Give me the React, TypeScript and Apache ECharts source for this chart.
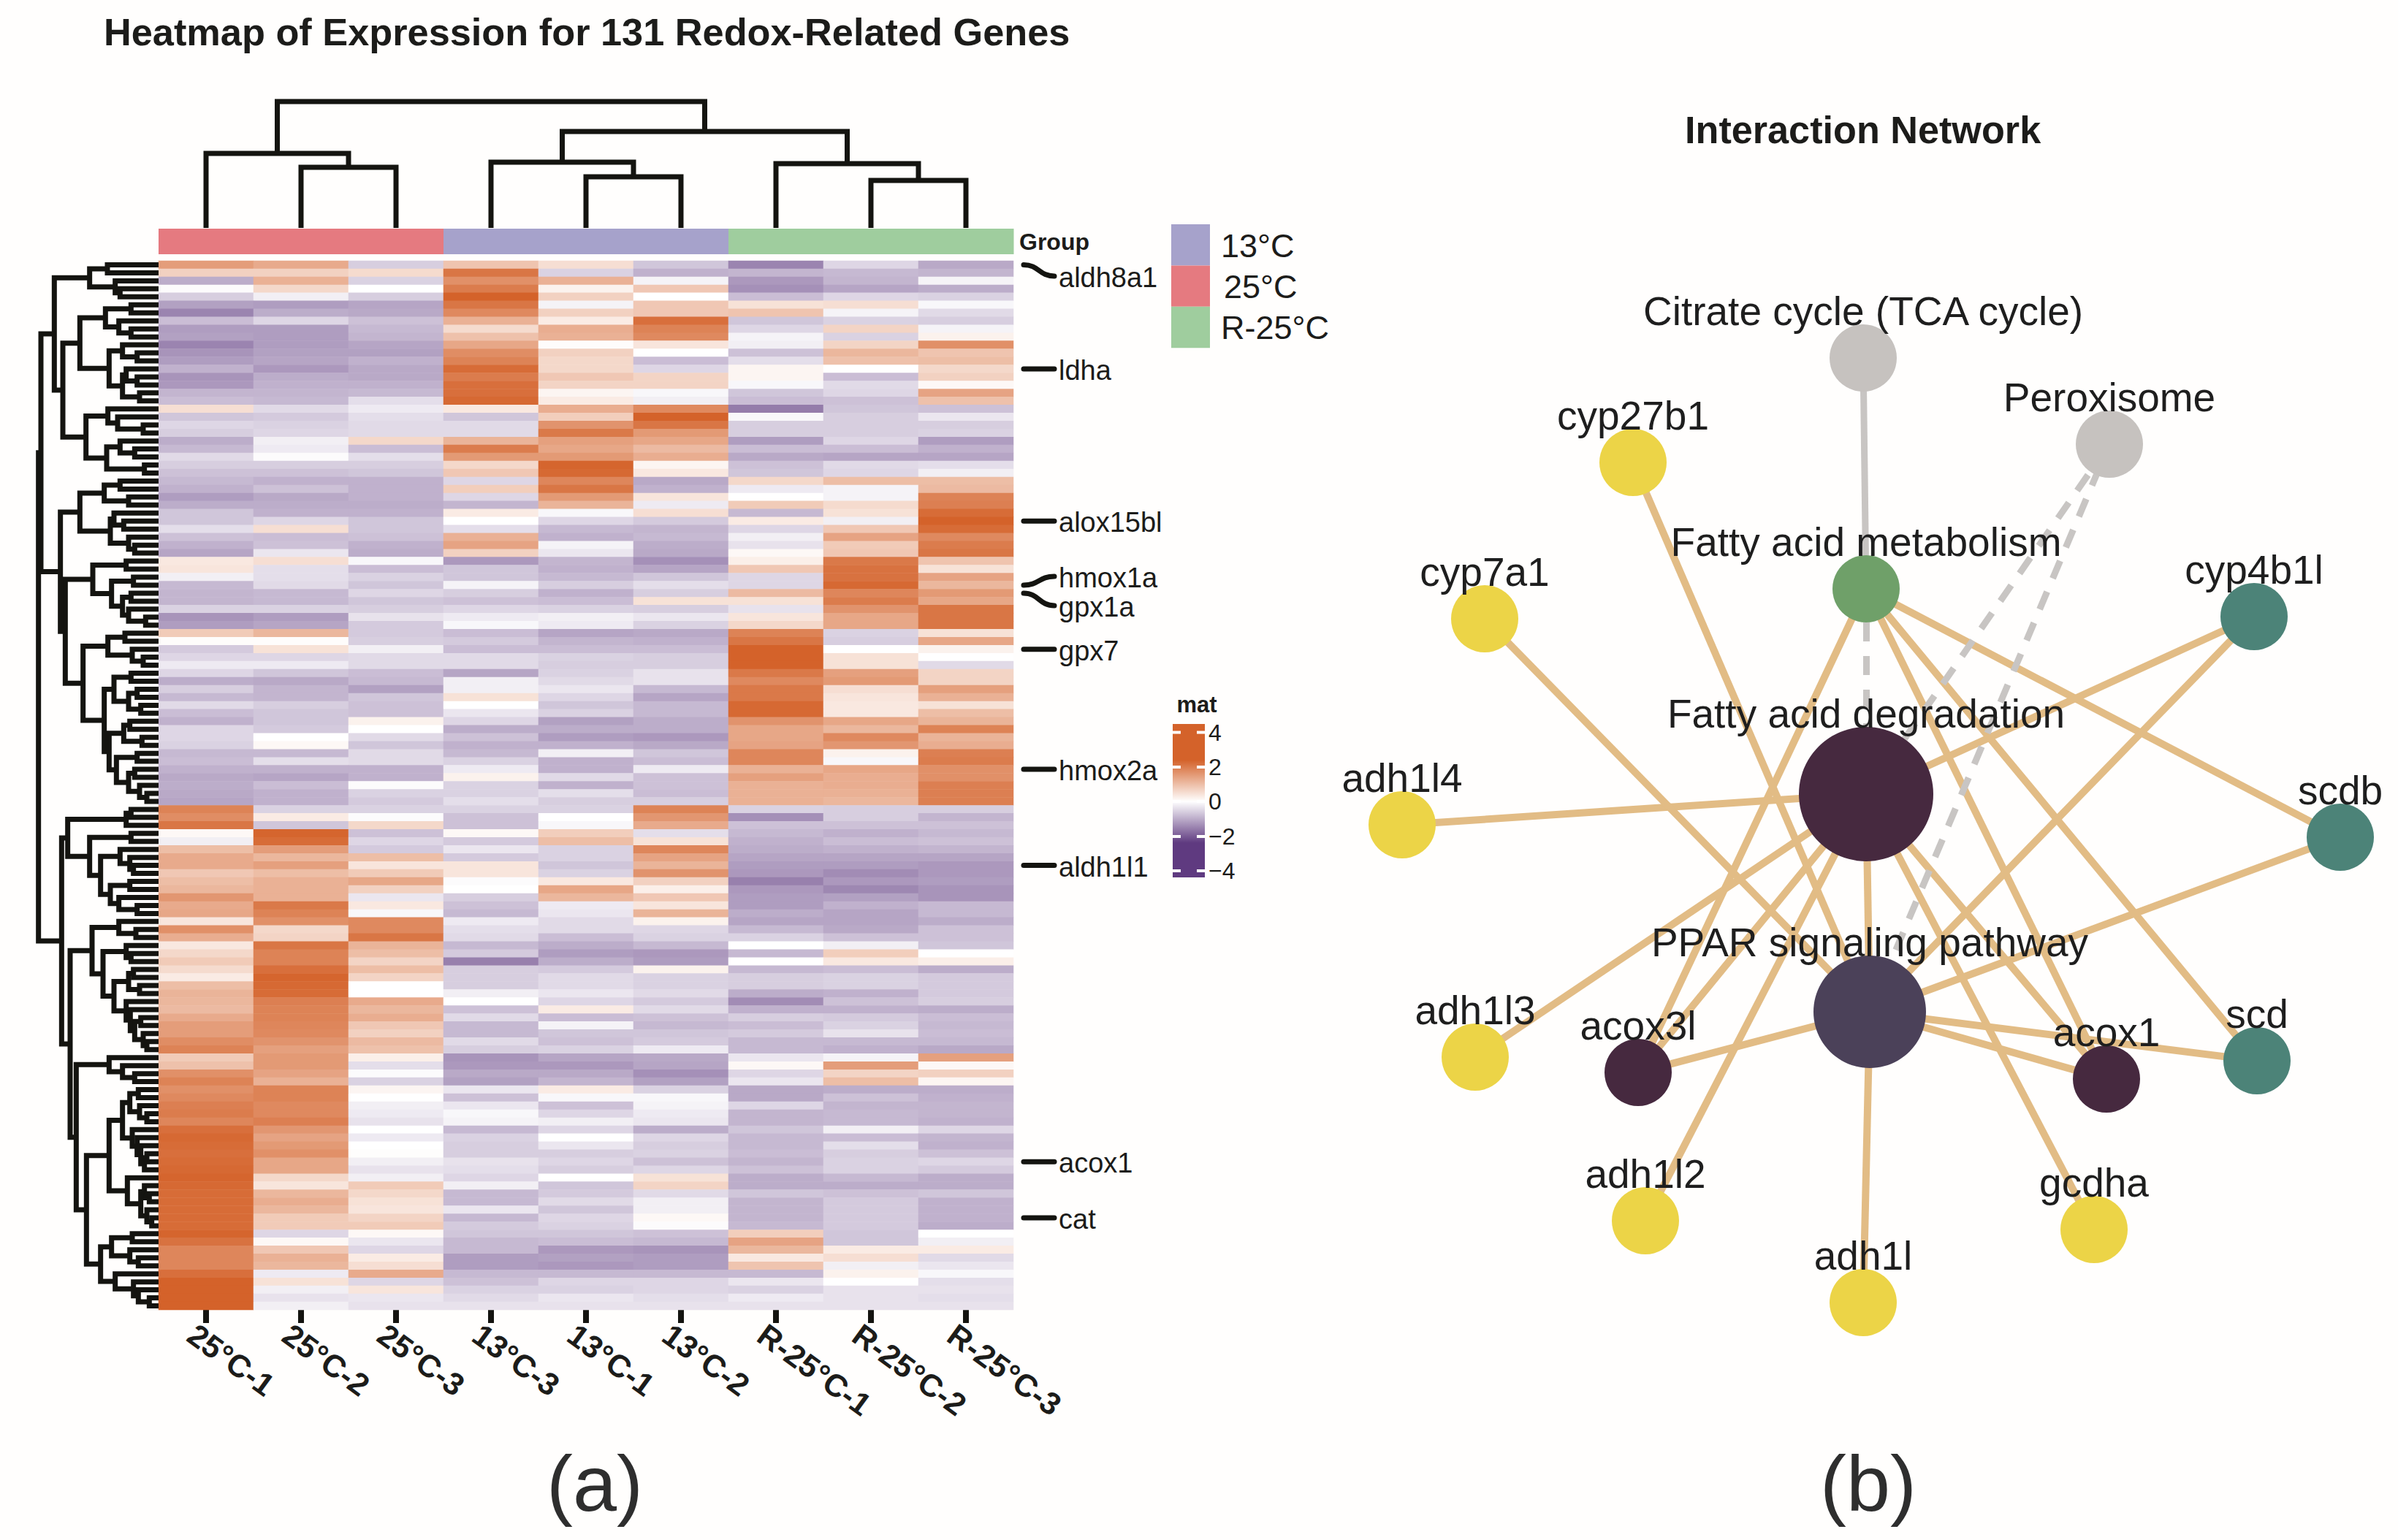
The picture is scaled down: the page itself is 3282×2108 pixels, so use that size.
import React, { useEffect, useRef } from "react";
import * as echarts from "echarts";

const sampleLabels = ["25°C-1", "25°C-2", "25°C-3", "13°C-3", "13°C-1", "13°C-2", "R-25°C-1", "R-25°C-2", "R-25°C-3"];
const sampleGroups = [1, 1, 1, 0, 0, 0, 2, 2, 2];
const groupNames = ["13°C", "25°C", "R-25°C"];
const groupColors = ["#A6A2CB", "#E57A80", "#9FCD9E"];

const expressionRows: number[][] = [
  [1.5,1.3,-.6,.9,.5,-.7,-1.5,-.5,-1.05],
  [.7,.7,.55,2.1,-.55,-.95,-.9,-.85,-.9],
  [-1,1.2,-.55,1.7,1.2,-.15,-1.25,-.9,-.15],
  [-.05,.6,0,2,.2,.85,-1.35,-1.1,-1],
  [-.6,-.2,-.6,2.4,.7,0,-.8,-.5,-.55],
  [-1.15,-1.2,-1.1,2.1,-.15,.85,.45,.5,-.1],
  [-1.5,-1,-1.05,1.8,.7,.85,.9,-.15,-.45],
  [-.8,-.5,-.75,1.2,.3,2.2,-.7,-.55,-.6],
  [-1.2,-1.2,-.85,.55,1.25,1.9,-.5,.65,-.15],
  [-1.15,-1.2,-.9,.95,1.2,1.8,-.15,-.55,.2],
  [-1.5,-1.2,-1.1,1.35,.05,.4,-.2,.65,1.7],
  [-1.3,-1.15,-1.15,1.75,.7,0,-.75,1.1,.9],
  [-1.2,-1.1,-.95,1.9,.6,-.8,-.4,.95,1],
  [-.95,-1.25,-1.05,2.25,.6,-.5,.15,0,.6],
  [-1.3,-1,-1.05,2,.85,.65,.15,-.8,.7],
  [-1.25,-.95,-.95,2.2,.65,.65,-.1,-.45,.1],
  [-.9,-.9,-.85,2.2,.15,-.1,-.7,-.5,1.4],
  [-.8,-.85,-.4,2.3,.3,-.2,-.8,-.75,.95],
  [.5,-.45,-.25,.35,1.25,1.8,-1.6,-.7,-.75],
  [-.7,-.65,-.4,-.7,.75,2.4,-.1,-.6,-.3],
  [-.5,-.55,-.45,-.45,1.65,2.1,-.6,-.6,-.6],
  [-.6,-.5,-.45,-.45,2.05,1.55,-.6,-.6,-.55],
  [-1,-.2,.6,1.15,1.45,1.35,-1.2,-.5,-1.2],
  [-.85,-.25,-.8,2,1.35,1.05,-.8,-.8,-.95],
  [-.45,-.05,-.4,1.55,1.55,1.25,-1.05,-1.1,-1.1],
  [-.6,-.6,-.6,.6,2.35,.15,-.75,-.45,-.4],
  [-.75,-.75,-.7,.85,2.3,.35,-.7,-.5,-.2],
  [-.85,-.95,-.95,-.5,1.85,-1.05,.6,1,1],
  [-.95,-.75,-.95,.75,2.1,-.95,-.25,-.15,1.05],
  [-1.2,-1.05,-.95,-.5,1.55,.4,0,-.15,1.9],
  [-1,-1,-1,-.9,1.15,-.25,.8,.55,1.95],
  [-.7,-.95,-.95,.3,-.1,.5,-.85,.45,2.25],
  [-.7,-.5,-.7,0,-.5,-.65,.3,-.2,2.4],
  [-.4,.5,-.7,-.4,-.85,-.9,-.5,.85,2.25],
  [-.75,-.8,-.75,1.2,-.95,-.85,-.2,1.4,1.8],
  [-.95,-.75,-.95,1.4,-.15,-1,-.35,.8,2],
  [-1.1,-.3,-1,.7,-.3,-1.05,.1,.85,2.1],
  [.35,.5,-.1,-1.25,-.9,-1.35,.25,2.05,.9],
  [.4,-.4,-.8,-.7,-.95,-1.1,.85,2.15,.45],
  [-.2,-.4,-.55,-.7,-.85,-.7,-.5,2.15,1.4],
  [-.85,-.45,-.7,-.15,-.6,-.4,-.5,2.3,1.1],
  [-.9,-.85,-.5,-.6,-.95,-.6,1.05,1.85,1.55],
  [-.9,-.85,-.7,-.75,-.8,.45,.45,2,1.35],
  [-.55,-.55,-.6,-.5,-.55,-.6,-.35,1.65,2.1],
  [-1.3,-1.2,-.35,-.25,-.2,-.3,.4,1.35,2.1],
  [-1.2,-1.1,-.65,-.1,-.25,-.55,.6,1.35,2.1],
  [.8,1.1,-.65,-.8,-1.1,-1.05,1.9,-.55,.45],
  [.05,.05,-.6,-.65,-.9,-.95,2.1,-.6,1.35],
  [-.65,.45,-.2,-.8,-.8,-.8,2.4,0,.2],
  [-.5,-.5,-.45,-.45,-.55,-.6,2.4,.45,0],
  [-.25,-.25,-.45,-.45,-.6,-.6,2.4,.45,-.45],
  [-.5,-.7,-.8,-1.1,-.55,-.35,2.05,1.45,.65],
  [-1,-1.05,-.85,-.2,-.45,-.35,1.8,1.55,.65],
  [-.6,-.9,-1.15,-.2,-.3,-.85,2.05,.5,1.45],
  [-.85,-.9,-.7,.45,-.5,-1.1,2.05,.4,1.2],
  [-.45,-.6,-.75,0,-.7,-.85,2.3,.35,.45],
  [-.8,-.7,-.75,-.3,-.55,-.85,2.3,.35,1],
  [-.95,-.7,.2,-.5,-1.15,-1,1.65,1.35,1.15],
  [-.5,-.65,0,-1,-1,-1,1.35,1.1,1.9],
  [-.5,0,-.45,-.75,-1.2,-1.25,1.35,1.8,1.15],
  [-.55,.1,-.7,-.95,-.95,-1.05,1.4,1.6,1.25],
  [-.85,-.85,-.45,-.85,-.2,-.7,1.85,.2,1.95],
  [-.8,-.4,-.45,-.55,-.95,-.8,1.85,-.1,2],
  [-.95,-.95,-.95,-.25,-.95,-.25,1.2,1.35,1.7],
  [-1.05,-1.1,-.95,.2,-.45,-.75,1.45,1.25,1.7],
  [-1,-.8,-.05,-.55,-.95,-.75,1.2,1.25,1.95],
  [-1.05,-.95,-.55,-.55,-.4,-.8,1.2,1.2,1.95],
  [-1.1,-.95,-.65,-.4,-.6,-.6,1.2,1.1,1.95],
  [1.9,-.55,-.55,-.55,-.55,1.9,-.55,-.6,-.6],
  [1.75,.3,-.05,-.75,0,1.6,-1.35,-.6,-.9],
  [2.1,-.7,.6,-.75,-.1,1.3,-.75,-.75,-.75],
  [.1,2.35,-.75,.1,.75,-.4,-.85,-.95,-.85],
  [-.2,2.25,-.5,-.65,1,.45,-.95,-.8,-.75],
  [1,1.5,-.65,-.3,-.55,1.85,-1,-.95,-.9],
  [1.3,1.1,1,-.65,-.55,1.4,-1.1,-1.1,-1.1],
  [1.3,1.45,.4,.4,-.7,1.15,-1.2,-1.2,-1.25],
  [.85,1,.8,.4,-.55,1.65,-1.25,-1.4,-1.25],
  [1,1.2,1.35,-.05,.35,.7,-1.55,-1.25,-1.2],
  [1.1,1.2,.7,0,1.35,.25,-1.25,-1.45,-1.3],
  [1.6,1.2,-.3,-.6,1.1,.85,-1.2,-1.15,-1.3],
  [1.3,2.05,.35,-.75,-.25,.4,-1.2,-.95,-.85],
  [1.35,1.9,-.1,-.85,-.3,1.15,-1,-1.1,-.85],
  [.4,1.7,1.8,-.25,-.45,.2,-1.1,-1.1,-1],
  [1.7,.6,1.8,-.4,-.45,-.5,-.85,-1.05,-.75],
  [1.25,.65,2.1,-.45,-.8,-.55,-.55,-.75,-.75],
  [.35,2.1,1.15,-.85,-1,-.85,0,-.2,-.7],
  [.6,1.9,1,-.65,-1.2,-1.25,-.85,.75,0],
  [.8,1.9,.65,-1.55,-1,-1.2,0,.35,.25],
  [.55,2.2,1,-.6,-.65,.2,-.85,-.8,-1],
  [.3,2.35,.65,-.6,-.45,-.55,-.6,-.55,-.65],
  [1,2.3,0,-.6,-.45,-.55,-.6,-.55,-.65],
  [1.15,2.25,0,-.2,-.3,-.45,-1,-.95,-.65],
  [1.1,1.95,1.3,0,-.5,-.65,-1.4,-.75,-.6],
  [1.05,1.9,1.1,-.75,.3,-.45,-.95,-.95,-1],
  [1.3,1.9,1.25,-.45,-.8,-.75,-.6,-.65,-.8],
  [1.5,1.85,.85,-.85,-.15,-.85,-.8,-.55,-.85],
  [1.5,1.8,.7,-.85,-.7,-.7,-.65,-.35,-.8],
  [1.75,1.65,1.05,-.45,-.75,-.65,-.85,-.85,-.85],
  [1.9,1.45,.95,-.6,-.55,-.25,-.85,-.95,-1.05],
  [.8,1.55,.25,-1.3,-1.1,-1.05,-.3,-.15,1.45],
  [.95,1.55,-.4,-1.25,-1.25,-1.1,.1,1.5,.1],
  [1.7,1.4,-.05,-1.05,-1.05,-1.35,-.5,.65,.7],
  [1.9,1.2,-.55,-1.15,-.9,-1.15,-.3,1,.15],
  [1.7,1.9,.15,-.3,.3,-.55,-1.05,-1,-1],
  [1.8,1.9,0,-.75,-.1,-.1,-1.05,-.75,-.95],
  [1.95,1.8,-.2,-.3,-.75,-.15,-.5,-.9,-.9],
  [2,1.8,-.25,-.1,-.5,-.25,-.9,-.85,-.9],
  [1.85,1.95,-.35,-.15,-.2,-.3,-.9,-.85,-.95],
  [2.2,1.6,0,-.85,-.5,-1,-.7,-.2,-.5],
  [2.3,1.4,-.25,-.55,0,-.5,-.85,-.8,-.9],
  [2.25,1.55,0,-.6,-.3,-.6,-.85,-.4,-.95],
  [2.2,1.7,.03,-.6,-.6,-.55,-.8,-.6,-.75],
  [2.25,1.35,-.2,-.35,-.5,-.75,-.9,-.55,-.5],
  [2.3,1.35,-.35,-.4,-.6,-.5,-.75,-.55,-.65],
  [2.35,.6,-.2,-.5,0,.45,-1,-.85,-1],
  [2.3,.4,.8,-.2,-.7,.65,-1,-1,-1],
  [2.25,1.1,.6,-.85,-.65,-.45,-.7,-.75,-.7],
  [2.25,1.25,.45,-.85,-.45,-.2,-.9,-.65,-.95],
  [2.25,1.1,.4,-.3,-.7,-.2,-.9,-.65,-.95],
  [2.25,.8,.65,-.85,-.5,.1,-.9,-.65,-.95],
  [2.25,.8,.8,-.65,-.55,-.05,-.85,-.65,-1],
  [2.35,-.5,.1,-.7,-.7,-.75,.75,-.7,0],
  [2.15,.1,-.3,-.85,-.8,-.85,1.4,-.7,-.2],
  [1.85,.85,-.5,-.85,-1.25,-1.3,1.1,.3,.3],
  [1.85,1.2,.3,-1.2,-1.15,-1.2,.35,.5,-.45],
  [1.85,1.1,.5,-1.2,-1.25,-1.2,.9,-.2,-.3],
  [2.2,-.25,1.3,-.85,-.85,-.85,-.85,.2,-.1],
  [2.4,.45,-.5,-.75,-.5,-.5,-.3,0,-.4],
  [2.4,-.2,.4,-.55,-.55,-.5,-.55,-.35,-.35],
  [2.4,-.35,-.3,-.45,-.3,-.4,-.25,-.35,-.4],
  [2.4,-.2,-.35,-.35,-.35,-.35,-.35,-.35,-.35],
];

type T = 0 | [number, T, T];
const rowTree: T = [493,
  [483,
    [428,
      [283,[210,0,0],[178,0,[158,0,0]]],
      [393,
        [323,
          [218,[113,0,0],[163,0,[113,0,0]]],
          [203,[148,0,[88,0,0]],[148,[133,0,[88,0,0]],[78,0,0]]]],
        [298,
          [208,0,[168,0,[63,0,0]]],
          [213,[158,0,[98,0,0]],[58,0,0]]]]],
    [403,
      [323,
        [223,[158,0,0],[123,0,0]],
        [198,[183,0,[143,0,0]],[123,0,[98,0,0]]]],
      [383,
        [270,[133,0,0],[193,[103,0,0],[148,[113,0,0],[123,0,[53,0,0]]]]],
        [310,
          [208,[138,0,0],[108,0,[63,0,0]]],
          [223,
            [183,[113,0,0],[123,[88,0,0],[73,0,0]]],
            [203,
              [143,[118,0,0],[68,0,0]],
              [173,[88,0,0],[123,[98,0,0],[78,0,[48,0,0]]]]]]]]]],
  [398,
    [373,
      [133,[113,0,0],0],
      [283,[113,0,0],
        [238,
          [158,0,[118,0,[103,0,0]]],
          [198,[118,0,0],[163,0,[88,0,0]]]]]],
    [363,
      [273,
        [163,0,[93,0,0]],
        [228,
          [133,0,[113,0,0]],
          [183,
            [123,[103,0,0],[78,0,0]],
            [133,0,[116,0,[98,[73,0,0],[63,0,[48,0,0]]]]]]]],
      [338,
        [203,0,[148,0,[98,0,0]]],
        [296,
          [203,
            [148,
              [118,[83,0,0],[78,0,[48,0,0]]],
              [108,0,[88,0,[73,0,[58,[48,0,0],0]]]]],
            [128,0,[73,[58,0,[38,0,0]],[48,0,[28,0,0]]]]],
          [238,
            [193,[108,0,0],[118,0,[83,0,0]]],
            [178,0,[103,0,[83,0,[38,0,0]]]]]]]]]];
const columnTree: T = [173, [102, 0, [83, 0, 0]], [132, [90, 0, [70, 0, 0]], [88, 0, [65, 0, 0]]]];

const geneNames = ["aldh8a1", "ldha", "alox15bl", "hmox1a", "gpx1a", "gpx7", "hmox2a", "aldh1l1", "acox1", "cat"];
const geneRows = [0, 13, 32, 40, 41, 48, 63, 75, 112, 119];
const geneShifts = [15.5, 0, 0, -12, 17, 0, 0, 0, 0, 0];

const legendTicks = ["4", "2", "0", "−2", "−4"];

const nodeNames = ["Citrate cycle (TCA cycle)", "Peroxisome", "cyp27b1", "Fatty acid metabolism", "cyp7a1", "cyp4b1l", "adh1l4", "Fatty acid degradation", "scdb", "PPAR signaling pathway", "adh1l3", "acox3l", "acox1", "scd", "adh1l2", "gcdha", "adh1l"];
const nodeX = [2550, 2887, 2235, 2554, 2032, 3085, 1919, 2554, 3203, 2559, 2019, 2242, 2883, 3089, 2252, 2866, 2550];
const nodeY = [490, 608, 633, 806, 847, 844, 1129, 1087, 1146, 1385, 1447, 1468, 1477, 1452, 1671, 1683, 1783];
const nodeSizes = [92, 92, 92, 92, 92, 92, 92, 184, 92, 154, 92, 92, 92, 92, 92, 92, 92];
const nodeColors = ["#C6C2BF", "#C6C2BF", "#ECD447", "#6FA069", "#ECD447", "#4C8378", "#ECD447", "#46293F", "#4C8378", "#4B4159", "#ECD447", "#46293F", "#46293F", "#4C8378", "#ECD447", "#ECD447", "#ECD447"];
const geneEdges = [
  [3, 8], [3, 13], [3, 12], [3, 11],
  [7, 6], [7, 10], [7, 11], [7, 14], [7, 15], [7, 12], [7, 5], [7, 9],
  [9, 2], [9, 4], [9, 16], [9, 11], [9, 12], [9, 13], [9, 8], [9, 5],
];
const dashedEdges = [[3, 7], [7, 1], [9, 1]];
const solidGrayEdges = [[0, 3]];

const FONT = '"Liberation Sans", Arial, sans-serif';
const INK = "#1C1C1A";
const PAGE = "#FFFEFD";
const HEAT = { left: 217, top: 357, width: 1170, height: 1436 };
const LABEL_SHIFT = 20;

function layoutTree(tree: T, horizontal: boolean) {
  const out: number[][] = [];
  let leaf = 0;
  const walk = (n: T): { p: number; h: number } => {
    if (n === 0) {
      const p = leaf + 0.5;
      leaf++;
      return { p, h: 0 };
    }
    const a = walk(n[1]);
    const b = walk(n[2]);
    const h = n[0];
    out.push(horizontal ? [a.h, a.p, h, a.p, h, b.p, b.h, b.p] : [a.p, a.h, a.p, h, b.p, h, b.p, b.h]);
    return { p: (a.p + b.p) / 2, h };
  };
  walk(tree);
  return out;
}

const dendroItem = (width: number) => (_: any, api: any) => {
  const points = [0, 2, 4, 6].map((i) => api.coord([api.value(i), api.value(i + 1)]));
  return {
    type: "polyline",
    silent: true,
    shape: { points },
    style: { stroke: "#141410", lineWidth: width, fill: "none", lineJoin: "miter" },
  };
};

function buildOption() {
  const heatData: number[][] = [];
  expressionRows.forEach((row, r) => row.forEach((v, c) => heatData.push([c, r, v])));
  const rowIds = expressionRows.map((_, i) => "g" + i);

  const hidden = { show: false };
  const edge = (pair: number[], lineStyle: any) => ({ source: pair[0], target: pair[1], lineStyle });

  // colour-bar geometry
  const bar = { x: 1605, y: 991, w: 44, h: 210 };
  const tickY = [1002.5, 1050, 1097, 1145, 1192];

  const graphic: any[] = [
    ...groupNames.map((_, i) => ({
      type: "rect",
      shape: { x: 1603, y: 307 + i * 56.4, width: 53, height: 56.4 },
      style: { fill: groupColors[i] },
    })),
    ...groupNames.map((name, i) => ({
      type: "text",
      style: { text: name, x: i === 1 ? 1675 : 1671, y: 336 + i * 56, fill: INK, font: `45px ${FONT}`, verticalAlign: "middle" },
    })),
    { type: "text", style: { text: "Group", x: 1395, y: 331, fill: INK, font: `bold 32px ${FONT}`, verticalAlign: "middle" } },
    { type: "text", style: { text: "mat", x: 1638, y: 964, fill: INK, font: `bold 31px ${FONT}`, align: "center", verticalAlign: "middle" } },
    {
      type: "rect",
      shape: { x: bar.x, y: bar.y, width: bar.w, height: bar.h },
      style: {
        fill: new echarts.graphic.LinearGradient(0, 0, 0, 1, [
          { offset: 0, color: "#D4622A" },
          { offset: 0.235, color: "#D4622A" },
          { offset: 0.505, color: "#FFFFFF" },
          { offset: 0.775, color: "#5F3A80" },
          { offset: 1, color: "#5F3A80" },
        ]),
      },
    },
    ...tickY.flatMap((y) => [
      { type: "rect", shape: { x: bar.x, y: y - 2, width: 11, height: 4 }, style: { fill: "#FFFFFF" } },
      { type: "rect", shape: { x: bar.x + bar.w - 11, y: y - 2, width: 11, height: 4 }, style: { fill: "#FFFFFF" } },
    ]),
    ...legendTicks.map((t, i) => ({
      type: "text",
      style: { text: t, x: 1654, y: tickY[i], fill: INK, font: `32px ${FONT}`, verticalAlign: "middle" },
    })),
    { type: "text", style: { text: "(a)", x: 814, y: 2030, fill: "#2E2E2E", font: `108px ${FONT}`, align: "center", verticalAlign: "middle" } },
    { type: "text", style: { text: "(b)", x: 2557, y: 2030, fill: "#2E2E2E", font: `108px ${FONT}`, align: "center", verticalAlign: "middle" } },
  ];

  return {
    animation: false,
    backgroundColor: PAGE,
    textStyle: { fontFamily: FONT },
    title: [
      { text: "Heatmap of Expression for 131 Redox-Related Genes", left: 142, top: 18, padding: 0, textStyle: { fontSize: 52.3, fontWeight: "bold", color: INK, fontFamily: FONT } },
      { text: "Interaction Network", left: 2306, top: 152, padding: 0, textStyle: { fontSize: 52.2, fontWeight: "bold", color: INK, fontFamily: FONT } },
    ],
    visualMap: {
      show: false,
      seriesIndex: 0,
      dimension: 2,
      min: -2.4,
      max: 2.4,
      inRange: { color: ["#5F3A80", "#FFFFFF", "#D4622A"] },
    },
    grid: [
      { ...HEAT, show: false },
      { left: HEAT.left, width: HEAT.width, top: 139, height: 173 },
      { left: HEAT.left - 500 / 3, width: 500 / 3, top: HEAT.top, height: HEAT.height },
      { left: HEAT.left, width: HEAT.width, top: 313, height: 35 },
      { left: 0, top: 0, width: 3282, height: 2108 },
      { left: HEAT.left - LABEL_SHIFT, width: HEAT.width, top: HEAT.top, height: HEAT.height },
    ],
    xAxis: [
      {
        gridIndex: 0,
        type: "category",
        data: sampleLabels,
        position: "bottom",
        axisLine: { show: false },
        axisTick: { show: true, alignWithLabel: true, length: 18, lineStyle: { color: "#141410", width: 8 } },
        axisLabel: { show: false },
        splitLine: hidden,
      },
      { gridIndex: 1, type: "value", min: 0, max: 9, show: false },
      { gridIndex: 2, type: "value", min: 0, max: 500, inverse: true, show: false },
      { gridIndex: 3, type: "category", data: sampleLabels, show: false },
      { gridIndex: 4, type: "value", min: 0, max: 3282, show: false },
      {
        gridIndex: 5,
        type: "category",
        data: sampleLabels,
        position: "bottom",
        axisLine: { show: false },
        axisTick: { show: false },
        axisLabel: { rotate: -36, margin: 29, fontSize: 43, fontWeight: "bold", color: INK, fontFamily: FONT, interval: 0 },
        splitLine: hidden,
      },
    ],
    yAxis: [
      { gridIndex: 0, type: "category", data: rowIds, inverse: true, show: false },
      { gridIndex: 1, type: "value", min: 0, max: 173, show: false },
      { gridIndex: 2, type: "value", min: 0, max: 131, inverse: true, show: false },
      { gridIndex: 3, type: "category", data: ["Group"], show: false },
      { gridIndex: 4, type: "value", min: 0, max: 2108, inverse: true, show: false },
      { gridIndex: 5, type: "value", min: 0, max: 1, show: false },
    ],
    graphic,
    series: [
      {
        type: "heatmap",
        xAxisIndex: 0,
        yAxisIndex: 0,
        data: heatData,
        progressive: 0,
        itemStyle: { borderWidth: 0 },
        emphasis: { disabled: true },
        silent: true,
      },
      {
        type: "custom",
        xAxisIndex: 1,
        yAxisIndex: 1,
        data: layoutTree(columnTree, false),
        encode: { x: [0, 2, 4, 6], y: [1, 3, 5, 7] },
        renderItem: dendroItem(7),
        silent: true,
      },
      {
        type: "custom",
        xAxisIndex: 2,
        yAxisIndex: 2,
        data: layoutTree(rowTree, true),
        encode: { x: [0, 2, 4, 6], y: [1, 3, 5, 7] },
        renderItem: dendroItem(7),
        silent: true,
      },
      {
        type: "custom",
        xAxisIndex: 3,
        yAxisIndex: 3,
        data: sampleGroups.map((g, c) => [c, 0, g]),
        encode: { x: 0, y: 1 },
        renderItem: (_: any, api: any) => {
          const p = api.coord([api.value(0), 0]);
          const s = api.size([1, 1]);
          return {
            type: "rect",
            shape: { x: p[0] - s[0] / 2, y: p[1] - s[1] / 2, width: s[0] + 0.5, height: s[1] },
            style: { fill: groupColors[api.value(2)] },
          };
        },
        silent: true,
      },
      {
        type: "custom",
        xAxisIndex: 0,
        yAxisIndex: 0,
        clip: false,
        data: geneRows.map((r, i) => [8, r, geneShifts[i], i]),
        encode: { x: 0, y: 1 },
        renderItem: (_: any, api: any) => {
          const p = api.coord([8, api.value(1)]);
          const right = p[0] + api.size([1, 0])[0] / 2;
          const shift = api.value(2);
          const y0 = p[1];
          const y1 = y0 + shift;
          const x0 = right + 14;
          const x1 = right + 56;
          return {
            type: "group",
            children: [
              {
                type: "bezierCurve",
                shape: { x1: x0, y1: y0, cpx1: x0 + 21, cpy1: y0, cpx2: x1 - 21, cpy2: y1, x2: x1, y2: y1 },
                style: { stroke: "#141410", lineWidth: 7, fill: "none", lineCap: "round" },
              },
              {
                type: "text",
                style: { text: geneNames[api.value(3)], x: right + 62, y: y1 + 2, fill: INK, font: `38px ${FONT}`, verticalAlign: "middle" },
              },
            ],
          };
        },
        silent: true,
      },
      {
        type: "graph",
        coordinateSystem: "cartesian2d",
        xAxisIndex: 4,
        yAxisIndex: 4,
        roam: false,
        silent: true,
        symbol: "circle",
        edgeSymbol: ["none", "none"],
        data: nodeNames.map((name, i) => ({
          name,
          value: [nodeX[i], nodeY[i]],
          symbolSize: nodeSizes[i],
          itemStyle: { color: nodeColors[i] },
          label: { show: true, position: "top", distance: -9, fontSize: 55, color: "#1E1E1E", fontFamily: FONT, formatter: name },
        })),
        links: [
          ...geneEdges.map((e) => edge(e, { color: "#E2BC85", width: 10, opacity: 1, curveness: 0 })),
          ...dashedEdges.map((e) => edge(e, { color: "#C8C5C3", width: 9, opacity: 1, type: [26, 20], curveness: 0 })),
          ...solidGrayEdges.map((e) => edge(e, { color: "#C8C5C3", width: 9, opacity: 1, curveness: 0 })),
        ],
      },
    ],
  };
}

export default function App() {
  const ref = useRef<HTMLDivElement>(null);
  useEffect(() => {
    document.body.style.margin = "0";
    const chart = echarts.init(ref.current!, undefined, { renderer: "svg" });
    chart.setOption(buildOption() as any);
    return () => chart.dispose();
  }, []);
  return <div ref={ref} style={{ width: 3282, height: 2108 }} />;
}
